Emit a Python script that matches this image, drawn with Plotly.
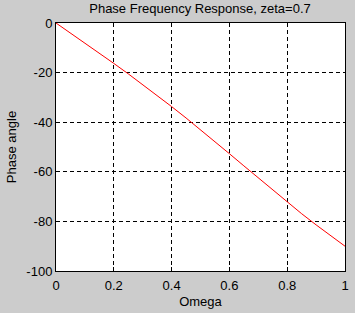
import plotly.graph_objects as go

omega = [0.0, 0.05, 0.1, 0.15, 0.2, 0.25, 0.3, 0.35, 0.4, 0.45, 0.5,
         0.55, 0.6, 0.65, 0.7, 0.75, 0.8, 0.85, 0.9, 0.95, 1.0]
phase = [0.0, -4.0, -8.1, -12.1, -16.3, -20.5, -24.8, -29.2, -33.7, -38.3, -43.0,
         -47.8, -52.7, -57.6, -62.5, -67.4, -72.2, -76.9, -81.4, -85.8, -90.0]

x_ticks = [0, 0.2, 0.4, 0.6, 0.8, 1]
x_labels = ["0", "0.2", "0.4", "0.6", "0.8", "1"]
y_ticks = [0, -20, -40, -60, -80, -100]
y_labels = ["0", "-20", "-40", "-60", "-80", "-100"]

font = dict(family="Liberation Sans, Arial, sans-serif", size=13, color="black")

fig = go.Figure()
fig.add_trace(go.Scatter(x=omega, y=phase, mode="lines",
                         line=dict(color="#ff0000", width=1), hoverinfo="skip"))

axis_common = dict(
    showline=True, linecolor="black", linewidth=1, mirror=True,
    showgrid=True, gridcolor="black", gridwidth=1, griddash="4px,3px",
    zeroline=False, ticks="inside", ticklen=4, tickcolor="black",
    tickfont=font,
)

fig.update_layout(
    width=355, height=313,
    margin=dict(l=56, r=6, t=23, b=37),
    paper_bgcolor="#cccccc", plot_bgcolor="white",
    showlegend=False,
    font=font,
    title=dict(text="Phase Frequency Response, zeta=0.7", font=font,
               x=200 / 355, xanchor="center",
               y=1 - 8 / 313, yanchor="middle", yref="container"),
    xaxis=dict(range=[0, 1], tickvals=x_ticks, ticktext=x_labels,
               ticklabelstandoff=2,
               title=dict(text="Omega", font=font, standoff=5), **axis_common),
    yaxis=dict(range=[-100, 0], tickvals=y_ticks, ticktext=y_labels,
               title=dict(text="Phase angle", font=font, standoff=6), **axis_common),
)

fig.write_html("out.html")
